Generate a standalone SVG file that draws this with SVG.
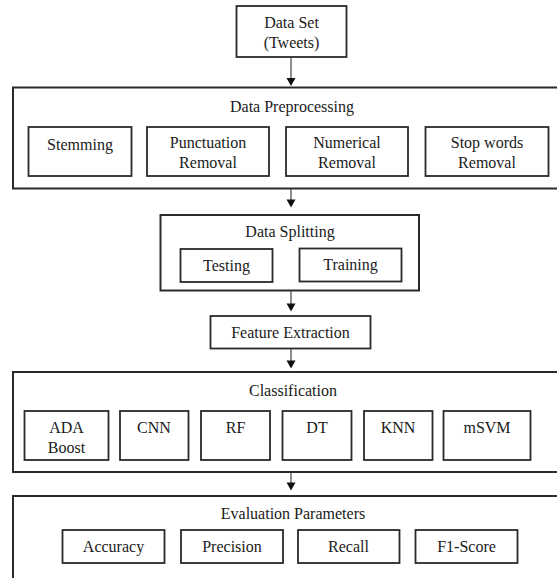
<svg xmlns="http://www.w3.org/2000/svg" width="557" height="578" viewBox="0 0 557 578">
<style>
.big{fill:none;stroke:#2a2a2a;stroke-width:2}
.box{fill:#fff;stroke:#2a2a2a;stroke-width:1.8}
text{font-family:"Liberation Serif","Times New Roman",serif;font-size:16px;fill:#1a1a1a;text-anchor:middle}
.conn line{stroke:#444;stroke-width:1.2}
.conn path{fill:#111;stroke:none}
</style>
<rect width="557" height="578" fill="#fff"/>
<g id="dataset">
<rect class="box" x="236.5" y="6" width="110" height="51"/>
<text x="291.5" y="28">Data Set</text>
<text x="291.5" y="48">(Tweets)</text>
</g>
<g id="preprocessing">
<rect class="big" x="13" y="87.5" width="560" height="101"/>
<text x="292" y="112">Data Preprocessing</text>
<g id="stemming"><rect class="box" x="28.5" y="127" width="103" height="49"/><text x="80" y="150">Stemming</text></g>
<g id="punctuation"><rect class="box" x="147" y="127" width="122" height="49"/><text x="208" y="148">Punctuation</text><text x="208" y="168">Removal</text></g>
<g id="numerical"><rect class="box" x="286" y="127" width="122" height="49"/><text x="347" y="148">Numerical</text><text x="347" y="168">Removal</text></g>
<g id="stopwords"><rect class="box" x="425.5" y="127" width="123" height="49"/><text x="487" y="148">Stop words</text><text x="487" y="168">Removal</text></g>
</g>
<g id="splitting">
<rect class="big" x="160.5" y="215" width="258.5" height="75.5"/>
<text x="290" y="236.5">Data Splitting</text>
<g id="testing"><rect class="box" x="180.5" y="249" width="92" height="33"/><text x="226.5" y="271">Testing</text></g>
<g id="training"><rect class="box" x="299.5" y="248.5" width="102" height="33"/><text x="350.5" y="270">Training</text></g>
</g>
<g id="feature">
<rect class="box" x="210.5" y="316" width="160" height="32.5"/>
<text x="290.5" y="337.5">Feature Extraction</text>
</g>
<g id="classification">
<rect class="big" x="13" y="372" width="560" height="100"/>
<text x="293" y="396">Classification</text>
<g id="ada"><rect class="box" x="24.5" y="411" width="84" height="49"/><text x="66.5" y="433">ADA</text><text x="66.5" y="452.5">Boost</text></g>
<g id="cnn"><rect class="box" x="120" y="411" width="68.5" height="49"/><text x="154" y="433">CNN</text></g>
<g id="rf"><rect class="box" x="201" y="411" width="69" height="49"/><text x="235.5" y="433">RF</text></g>
<g id="dt"><rect class="box" x="282.5" y="411" width="69" height="49"/><text x="317" y="433">DT</text></g>
<g id="knn"><rect class="box" x="364" y="411" width="68.5" height="49"/><text x="398" y="433">KNN</text></g>
<g id="msvm"><rect class="box" x="443.5" y="411" width="87" height="49"/><text x="487" y="433">mSVM</text></g>
</g>
<g id="evaluation">
<rect class="big" x="13" y="496" width="560" height="100"/>
<text x="293" y="519">Evaluation Parameters</text>
<g id="accuracy"><rect class="box" x="62.5" y="530" width="102" height="33"/><text x="113.5" y="552">Accuracy</text></g>
<g id="precision"><rect class="box" x="181" y="530" width="102" height="33"/><text x="232" y="552">Precision</text></g>
<g id="recall"><rect class="box" x="298" y="530" width="101.5" height="33"/><text x="348.5" y="552">Recall</text></g>
<g id="f1"><rect class="box" x="415.5" y="530" width="102" height="33"/><text x="466.5" y="552">F1-Score</text></g>
</g>
<g id="connectors" class="conn">
<line x1="291" y1="57" x2="291" y2="79"/><path d="M286.5 78 L295.5 78 L291 86 Z"/>
<line x1="291" y1="189" x2="291" y2="200"/><path d="M286.5 199.5 L295.5 199.5 L291 207.5 Z"/>
<line x1="291" y1="291" x2="291" y2="304"/><path d="M286.5 303.5 L295.5 303.5 L291 311.5 Z"/>
<line x1="291" y1="349" x2="291" y2="361"/><path d="M286.5 360.5 L295.5 360.5 L291 368.5 Z"/>
<line x1="291" y1="473" x2="291" y2="483"/><path d="M286.5 482.5 L295.5 482.5 L291 490.5 Z"/>
</g>
</svg>
